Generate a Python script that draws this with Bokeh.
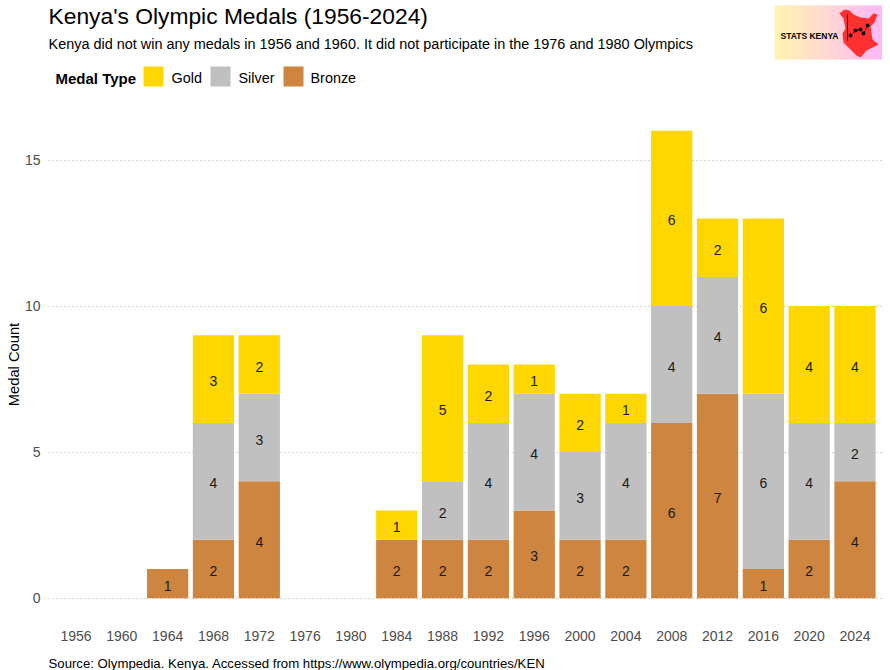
from bokeh.embed import file_html
from bokeh.resources import INLINE
from bokeh.plotting import figure
from bokeh.layouts import column, row
from bokeh.models import ColumnDataSource, FactorRange, Range1d, FixedTicker
from bokeh.core.properties import value

FONT = "Liberation Sans"
years = ["1956", "1960", "1964", "1968", "1972", "1976", "1980", "1984", "1988",
         "1992", "1996", "2000", "2004", "2008", "2012", "2016", "2020", "2024"]
gold = [0, 0, 0, 3, 2, 0, 0, 1, 5, 2, 1, 2, 1, 6, 2, 6, 4, 4]
silver = [0, 0, 0, 4, 3, 0, 0, 0, 2, 4, 4, 3, 4, 4, 4, 6, 4, 2]
bronze = [0, 0, 1, 2, 4, 0, 0, 2, 2, 2, 3, 2, 2, 6, 7, 1, 2, 4]
y_ticks = [0, 5, 10, 15]
medal_names = ["Gold", "Silver", "Bronze"]
medal_colors = ["#FFD700", "#C0C0C0", "#CD853F"]

title_text = "Kenya's Olympic Medals (1956-2024)"
subtitle_text = "Kenya did not win any medals in 1956 and 1960. It did not participate in the 1976 and 1980 Olympics"
source_text = "Source: Olympedia. Kenya. Accessed from https://www.olympedia.org/countries/KEN"

# logo drawing, in logo pixels
kenya_x = [65, 70, 75, 79, 86, 94, 99, 103, 100, 96, 98, 104, 92, 86, 82, 75, 69, 68, 71, 69]
kenya_y = [13, 9, 10, 14, 17, 18, 13, 14, 22, 26, 39, 44, 50, 57, 55, 48, 42, 33, 28, 18]
trend_x = [76, 81, 86, 89, 93]
trend_y = [35, 30, 29, 33, 25]
grad_start = (255, 244, 168)
grad_stop = (255, 176, 245)


def blank(w, h):
    f = figure(width=w, height=h, toolbar_location=None, output_backend="svg",
               x_range=(0, w), y_range=(h, 0), min_border=0, outline_line_color=None)
    f.axis.visible = False
    f.grid.visible = False
    return f


# ---------- header ----------
header = blank(774, 62)
header.text(x=[48], y=[15], text=[title_text], text_font=value(FONT), text_font_size="22.8px",
            text_baseline="middle", text_color="black")
header.text(x=[48], y=[43], text=[subtitle_text], text_font=value(FONT), text_font_size="14.45px",
            text_baseline="middle", text_color="black")

# ---------- logo ----------
logo = blank(116, 62)
n = 107
cols = []
for i in range(n):
    t = i / (n - 1)
    cols.append("#%02x%02x%02x" % tuple(round(a + (b - a) * t) for a, b in zip(grad_start, grad_stop)))
logo.quad(left=list(range(n)), right=[i + 1.3 for i in range(n)], top=[5] * n, bottom=[59] * n,
          fill_color=cols, line_color=None)
logo.patch(kenya_x, kenya_y, fill_color="#FF3030", line_color=None)
logo.line([73, 73], [14, 40], line_color="black", line_width=1)
logo.line(trend_x, trend_y, line_color="black", line_width=1, line_dash="2 1")
logo.scatter(trend_x, trend_y, size=3, color="black")
logo.text(x=[6], y=[35], text=["STATS KENYA"], text_font=value(FONT), text_font_style="bold",
          text_font_size="8.5px", text_baseline="middle", text_color="black")

# ---------- legend strip ----------
strip = blank(890, 45)
strip.text(x=[55], y=[15.5], text=["Medal Type"], text_font=value(FONT), text_font_style="bold",
           text_font_size="15px", text_baseline="middle", text_color="black")
strip.quad(left=[143, 210, 283], right=[163, 230, 303], top=[4, 4, 4], bottom=[24, 24, 24],
           fill_color=medal_colors, line_color=None)
strip.text(x=[171, 238, 310], y=[15.5] * 3, text=medal_names, text_font=value(FONT),
           text_font_size="14.4px", text_baseline="middle", text_color="black")

# ---------- main ----------
source = ColumnDataSource(dict(year=years, Gold=gold, Silver=silver, Bronze=bronze))
p = figure(width=890, height=542, toolbar_location=None, output_backend="svg",
           x_range=FactorRange(factors=years, range_padding=0.1, range_padding_units="absolute"),
           y_range=Range1d(-0.8, 16.8), min_border_left=48, min_border_right=8,
           min_border_top=0, min_border_bottom=28, outline_line_color=None)
p.vbar_stack(["Bronze", "Silver", "Gold"], x="year", width=0.9, source=source,
             color=[medal_colors[2], medal_colors[1], medal_colors[0]], line_color=None)

lab_x, lab_y, lab_t = [], [], []
for y, g, s, b in zip(years, gold, silver, bronze):
    for val, base in ((b, 0), (s, b), (g, b + s)):
        if val:
            lab_x.append(y)
            lab_y.append(base + val / 2)
            lab_t.append(str(val))
p.text(x=lab_x, y=lab_y, text=lab_t, text_align="center", text_baseline="middle", y_offset=2,
       text_font=value(FONT), text_font_size="14px", text_color="#1a1a1a")

p.xgrid.visible = False
p.ygrid.ticker = FixedTicker(ticks=y_ticks)
p.ygrid.grid_line_color = "#A8A8A8"
p.ygrid.grid_line_dash = "1 3"
p.ygrid.grid_line_width = 1
p.yaxis.ticker = FixedTicker(ticks=y_ticks)
p.yaxis.axis_label = "Medal Count"
p.yaxis.axis_label_text_font = FONT
p.yaxis.axis_label_text_font_style = "normal"
p.yaxis.axis_label_text_font_size = "14.7px"
p.yaxis.axis_label_text_color = "black"
p.yaxis.axis_label_standoff = 0
for ax in (p.xaxis[0], p.yaxis[0]):
    ax.axis_line_color = None
    ax.major_tick_line_color = None
    ax.minor_tick_line_color = None
    ax.major_tick_in = 0
    ax.major_tick_out = 0
    ax.major_label_text_font = FONT
    ax.major_label_text_font_size = "14px"
    ax.major_label_text_color = "#4D4D4D"
p.xaxis.major_label_standoff = 9
p.yaxis.major_label_standoff = 8

# ---------- footer ----------
footer = blank(890, 21)
footer.text(x=[48], y=[14], text=[source_text], text_font=value(FONT), text_font_size="13.2px",
            text_baseline="middle", text_color="black")

layout = column(row(header, logo, spacing=0), row(strip), p, row(footer), spacing=0)
open("out.html", "w").write(file_html(layout, INLINE))
